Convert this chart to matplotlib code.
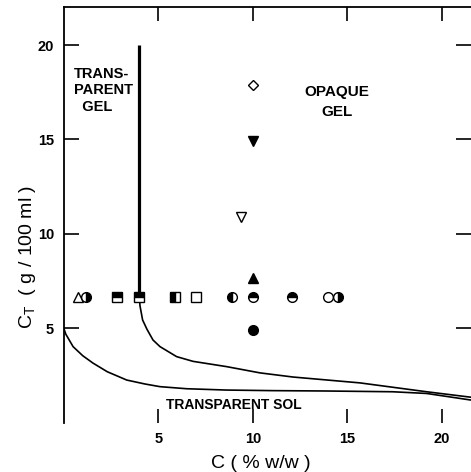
import matplotlib
matplotlib.use("Agg")
import matplotlib.pyplot as plt

# ---- data ----
# experimental points: (C %w/w, C_T g/100ml, marker, fillstyle)
row_c = [0.75, 1.2, 2.8, 4.0, 5.9, 7.0, 8.9, 10.0, 12.1, 14.0, 14.5]
row_ct = [6.66] * 11
row_marker = ['^', 'o', 's', 's', 's', 's', 'o', 'o', 'o', 'o', 'o']
row_fill = ['none', 'right', 'top', 'top', 'left', 'none', 'left', 'top', 'top', 'none', 'right']

col_c = [10.0, 10.0, 9.4, 10.0, 10.0]
col_ct = [4.9, 7.66, 10.9, 14.9, 17.9]
col_marker = ['o', '^', 'v', 'v', 'D']
col_fill = ['full', 'full', 'none', 'full', 'none']

# phase boundaries
vert_c = [4.0, 4.0]
vert_ct = [20.0, 6.66]
upper_c = [4.0, 4.03, 4.17, 4.4, 4.72, 5.09, 5.97, 6.84, 8.62, 10.38, 12.13, 15.67, 19.2, 21.55]
upper_ct = [6.66, 6.2, 5.44, 4.95, 4.38, 4.03, 3.50, 3.25, 2.97, 2.64, 2.42, 2.11, 1.64, 1.35]
lower_c = [0.0, 0.1, 0.49, 1.0, 1.54, 2.3, 3.33, 4.3, 5.09, 6.5, 8.62, 11.0, 13.9, 17.4, 19.2, 21.55]
lower_ct = [5.0, 4.7, 4.03, 3.55, 3.16, 2.7, 2.26, 2.05, 1.91, 1.8, 1.73, 1.7, 1.68, 1.64, 1.55, 1.2]

ticks = [5, 10, 15, 20]

plt.rcParams['font.family'] = ['Liberation Sans', 'DejaVu Sans']

fig = plt.figure(figsize=(4.71, 4.72), dpi=100)
ax = fig.add_axes([0.1355, 0.1044, 1 - 0.1355, 0.9845 - 0.1044])
ax.set_xlim(0, 21.55)
ax.set_ylim(0, 22.0)

ax.plot(vert_c, vert_ct, color='black', lw=2.3, solid_capstyle='butt')
ax.plot(upper_c, upper_ct, color='black', lw=1.2)
ax.plot(lower_c, lower_ct, color='black', lw=1.2)

def draw(xs, ys, ms, fs):
    for x, y, m, f in zip(xs, ys, ms, fs):
        size = 7
        if m == 'D':
            size = 5.5
        if f == 'none':
            ax.plot([x], [y], marker=m, ms=size, mfc='white', mec='black', mew=1.0, ls='none', zorder=3)
        elif f == 'full':
            ax.plot([x], [y], marker=m, ms=size, mfc='black', mec='black', mew=1.0, ls='none', zorder=3)
        else:
            ax.plot([x], [y], marker=m, ms=size, mfc='black', mfcalt='white', fillstyle=f,
                    mec='black', mew=1.0, ls='none', zorder=3)

draw(row_c, row_ct, row_marker, row_fill)
draw(col_c, col_ct, col_marker, col_fill)

ax.spines['bottom'].set_visible(False)
ax.spines['right'].set_visible(False)
for s in ('left', 'top'):
    ax.spines[s].set_linewidth(1.3)

ax.set_xticks(ticks)
ax.set_yticks(ticks)
ax.tick_params(axis='x', which='both', direction='in', length=10, width=1.2,
               bottom=True, top=True, labelsize=10.5, pad=7)
ax.tick_params(axis='y', which='both', direction='in', length=11, width=1.2,
               left=True, right=True, labelsize=10.5, pad=7)
for lab in ax.get_xticklabels() + ax.get_yticklabels():
    lab.set_fontweight('bold')

ax.set_xlabel('C ( % w/w )', fontsize=14)
ax.xaxis.set_label_coords(0.485, -0.077)
ax.set_ylabel('C$_\\mathregular{T}$  ( g / 100 ml )', fontsize=14)
ax.yaxis.set_label_coords(-0.064, 0.40)

ax.text(0.55, 17.6, 'TRANS-\nPARENT\n  GEL', ha='left', va='center', linespacing=1.25,
        fontsize=10.5, fontweight='bold', color='black')
ax.text(14.45, 17.0, 'OPAQUE\nGEL', ha='center', va='center', linespacing=1.55,
        fontsize=11, fontweight='bold', color='black')
ax.text(9.0, 0.95, 'TRANSPARENT SOL', ha='center', va='center', fontsize=10,
        fontweight='bold', color='black')

fig.savefig('out.png', dpi=100)
